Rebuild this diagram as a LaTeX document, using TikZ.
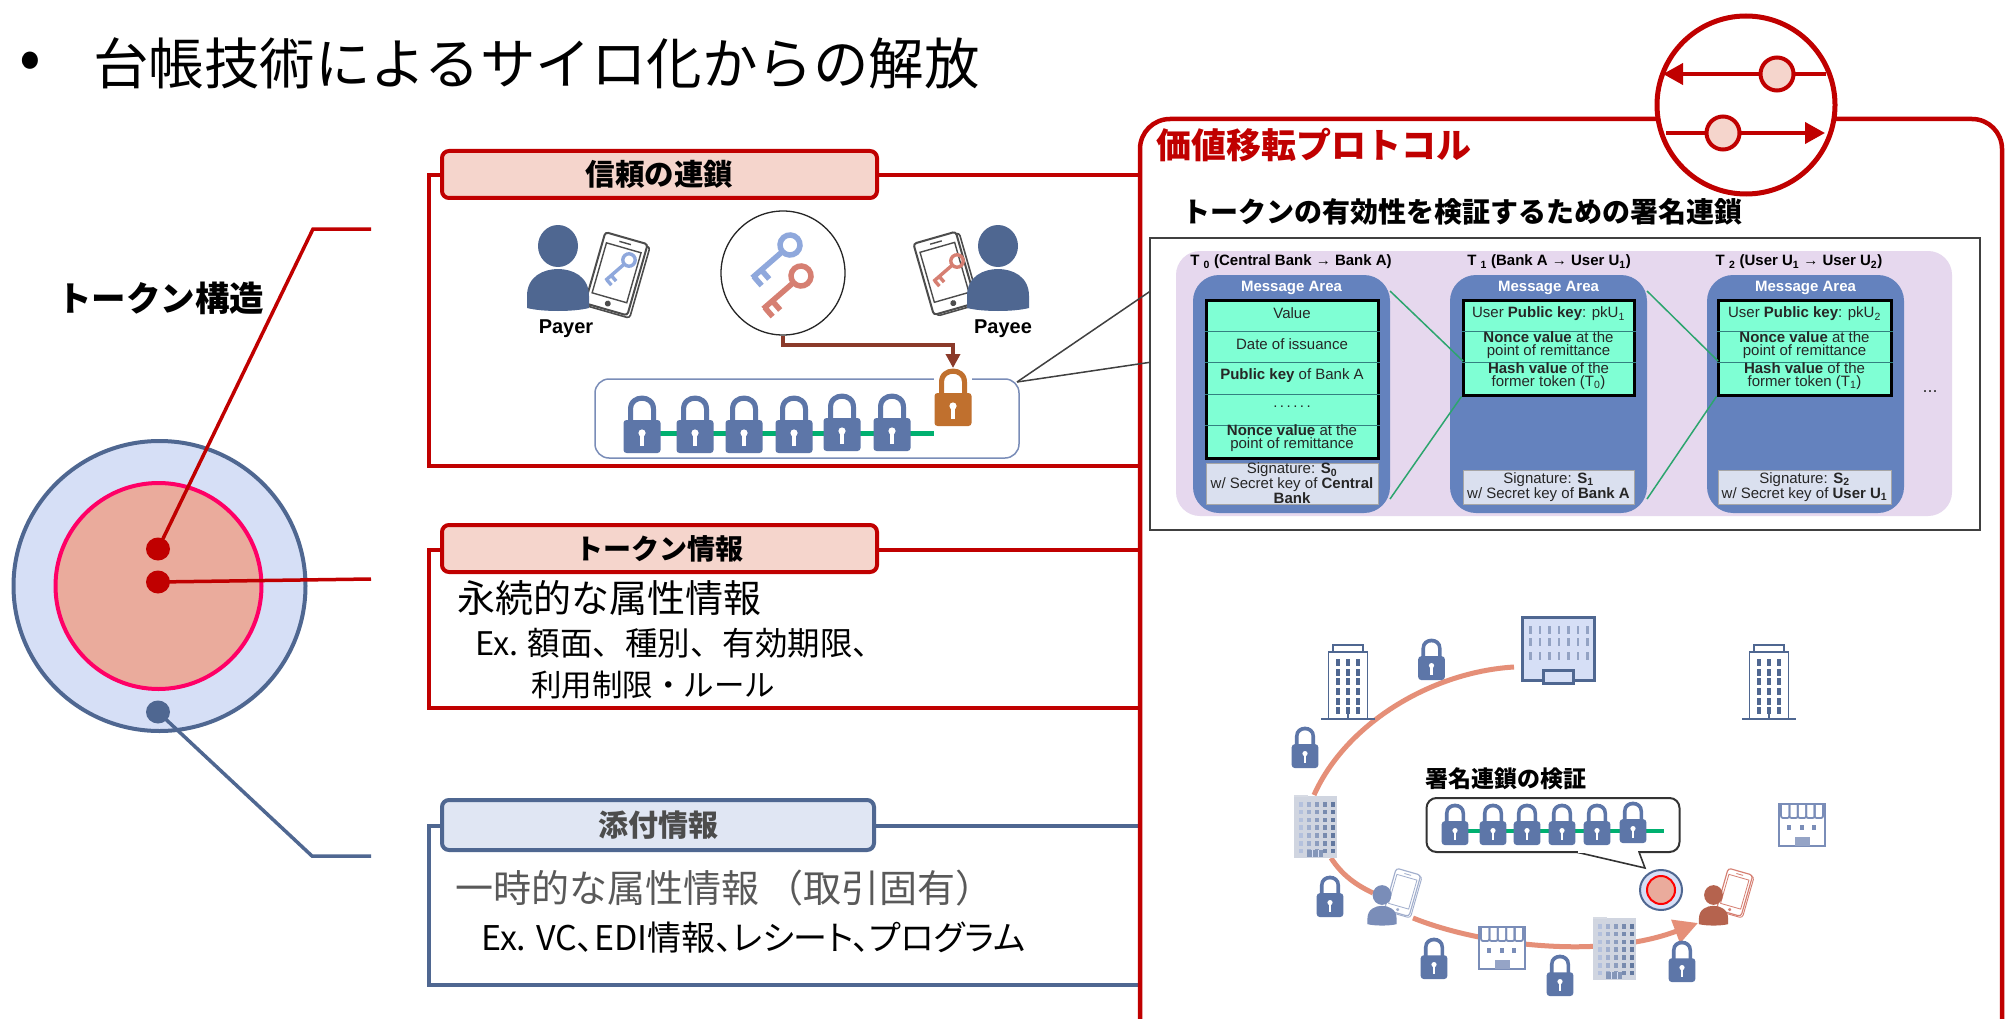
\documentclass[tikz,border=0pt]{standalone}
\usepackage{fontspec}
\usetikzlibrary{arrows.meta,shapes.geometric}
\setmainfont{Liberation Sans}
\newfontfamily\jp{Noto Sans CJK JP}
\newfontfamily\jpp[RawFeature=+palt]{Noto Sans CJK JP}
\definecolor{crim}{HTML}{C00000}
\definecolor{navy}{HTML}{4F6791}
\definecolor{lockblue}{HTML}{5D76A8}
\definecolor{palered}{HTML}{F5D5CC}
\definecolor{paleblue}{HTML}{E0E6F3}
\definecolor{orb}{HTML}{D6DFF6}
\definecolor{salmon}{HTML}{EAAB9C}
\definecolor{hotpink}{HTML}{FF0066}
\definecolor{lilac}{HTML}{E6D8EE}
\definecolor{panelblue}{HTML}{6482BE}
\definecolor{aqua}{HTML}{7FFFD4}
\definecolor{sigfill}{HTML}{DAE0EF}
\definecolor{chain}{HTML}{00B070}
\definecolor{routecol}{HTML}{E58F78}
\definecolor{keyblue}{HTML}{8FA8DC}
\definecolor{keyred}{HTML}{D67F72}
\definecolor{brownline}{HTML}{8B3A2A}
\definecolor{lockorange}{HTML}{C0702E}
\definecolor{brickp}{HTML}{B5634E}
\definecolor{softp}{HTML}{7A8DB8}
\definecolor{linkgreen}{HTML}{2CA56E}
\newcommand\fs[1]{\fontsize{#1}{#1}\selectfont}
% lock: x, bottom y, scale, colour
\newcommand\lockat[4]{\begin{scope}[shift={(#1,#2)},scale=#3]
 \fill[#4,even odd rule] (-14,-30) -- (-14,-44) .. controls (-14,-62) and (14,-62) .. (14,-44) -- (14,-30) -- (9,-30) -- (9,-44) .. controls (9,-55) and (-9,-55) .. (-9,-44) -- (-9,-30) -- cycle;
 \fill[#4,rounded corners=3pt] (-18.5,-33) rectangle (18.5,0);
 \fill[white] (0,-20) circle (3.6);
 \fill[white] (-1.6,-20) rectangle (1.6,-7);
\end{scope}}
% key: head x, head y, rotation, scale, colour
\newcommand\keyat[5]{\begin{scope}[shift={(#1,#2)},rotate=#3,scale=#4]
 \draw[#5,line width=#4*5.5pt] (0,0) circle (10);
 \draw[#5,line width=#4*5.5pt] (10,0) -- (50,0) (38,0) -- (38,-12) (48,0) -- (48,-12);
\end{scope}}
% person: x, y of head, scale, colour
\newcommand\personat[4]{\begin{scope}[shift={(#1,#2)},scale=#3]
 \fill[#4] (0,0) ellipse (20 and 21);
 \fill[#4] (-31,62) -- (-31,50) .. controls (-31,30) and (-14,23) .. (0,23) .. controls (14,23) and (31,30) .. (31,50) -- (31,62) .. controls (15,66) and (-15,66) .. (-31,62) -- cycle;
\end{scope}}
% phone: centre x, y, rotation, scale, colour
\newcommand\phoneat[5]{\begin{scope}[shift={(#1,#2)},rotate=#3,scale=#4]
 \draw[#5,fill=white,line width=#4*1.6pt,rounded corners=3pt] (-20,-36) rectangle (24,38);
 \draw[#5,fill=white,line width=#4*2pt,rounded corners=3pt] (-23,-38) rectangle (21,36);
 \draw[#5,line width=#4*1.4pt] (-19,-28) rectangle (17,24);
 \draw[#5,line width=#4*1.4pt] (-7,-33) -- (5,-33);
 \fill[#5] (-1,30) circle (3);
\end{scope}}
% thin white building: centre x
\newcommand\thinbldg[1]{\begin{scope}[shift={(#1,0)}]
 \draw[navy,fill=white,line width=1.5pt] (-15,652) -- (-15,645) -- (15,645) -- (15,652);
 \draw[navy,fill=white,line width=1.5pt] (-19.5,719) -- (-19.5,652) -- (19.5,652) -- (19.5,719);
 \draw[navy,line width=1.5pt] (-27,719) -- (27,719);
 \draw[navy,line width=1.5pt] (0,708) -- (0,719);
 \foreach \cx in {-10,0,10}{\foreach \ry in {662,672,681,691,701,710}{
   \fill[navy] (\cx-2,\ry-3.5) rectangle (\cx+2,\ry+3.5);}}
\end{scope}}
% tiled building: left x, top y
\newcommand\tiledbldg[2]{\begin{scope}[shift={(#1,#2)}]
 \fill[orb!70!gray!70!white] (0,1) rectangle (43,63);
 \fill[orb!70!gray!60] (0,0) rectangle (14,2);
 \foreach \c in {0,...,4}{\foreach \r in {0,...,6}{
   \pgfmathtruncatemacro\pc{25+15*\c}
   \fill[navy!\pc!orb] (5+8*\c,7+7.8*\r) rectangle (9+8*\c,11.5+7.8*\r);}}
 \fill[navy!60!orb] (13,55) rectangle (29,62);
 \draw[orb,line width=.8pt] (18.5,55) -- (18.5,62) (24,55) -- (24,62);
\end{scope}}
% shop: left x, top y
\newcommand\shopat[2]{\begin{scope}[shift={(#1,#2)}]
 \draw[softp,fill=white,line width=2.4pt] (0,0) rectangle (46,42);
 \foreach \k in {0,...,4}{
   \draw[softp,line width=1.8pt,rounded corners=2pt] (2+8.4*\k,0) -- (2+8.4*\k,14) -- (10.4+8.4*\k,14) -- (10.4+8.4*\k,0);}
 \foreach \k in {10,23,35}{\fill[softp] (\k-2,20.5) rectangle (\k+2,26);}
 \fill[softp!80!white] (15.5,33) rectangle (31,42);
\end{scope}}
\tikzset{
 frameline/.style={line width=4pt,line join=miter},
 redline/.style={frameline,draw=crim},
 blueline/.style={frameline,draw=navy},
 headred/.style={draw=crim,fill=palered,line width=4pt,rounded corners=7pt,inner sep=0pt,font=\jp\bfseries\fs{28}},
 headblue/.style={draw=navy,fill=paleblue,line width=4pt,rounded corners=7pt,inner sep=0pt,text=black!70,font=\jp\bfseries\fs{30}},
 leftlabel/.style={anchor=west,inner sep=0pt},
 dotn/.style={ellipse,inner sep=0pt},
 panel/.style={fill=panelblue,rounded corners=26pt,inner sep=0pt},
 greenbox/.style={draw=black,fill=aqua,line width=3pt,inner sep=0pt},
 sigbox/.style={draw=gray!70,fill=sigfill,line width=1pt,inner sep=0pt,align=center,font=\fontsize{15}{12.5}\selectfont,text=black!85},
 rowtext/.style={inner sep=0pt,align=center,font=\fontsize{15}{12.5}\selectfont,text=black!85},
 msgtext/.style={inner sep=0pt,text=white,font=\bfseries\fs{15}},
 tlabel/.style={inner sep=0pt,font=\bfseries\fs{15}},
 rowline/.style={draw=teal!60!gray,line width=.8pt},
 linkline/.style={draw=linkgreen,line width=1.5pt},
 route/.style={draw=routecol,line width=5pt},
 calloutline/.style={draw=black!75,line width=1.5pt},
 roundel/.style={draw=crim,fill=palered,line width=4pt,circle,inner sep=0pt,minimum size=30pt},
}
\begin{document}
\begin{tikzpicture}[x=1pt,y=-1pt]
\useasboundingbox (0,0) rectangle (2012,1019);
\clip (0,0) rectangle (2012,1019);
\fill[white] (0,0) rectangle (2012,1019);

% title
\node[inner sep=0pt] (bullet) at (30,66) {\jp\fs{64}•};
\node[leftlabel] (title) at (93,63) {\jp\fs{55.5}台帳技術によるサイロ化からの解放};

% token rings
\node[draw=navy,fill=orb,line width=4pt,ellipse,minimum width=292pt,minimum height=290pt,inner sep=0pt] (outerring) at (159.5,586) {};
\node[draw=hotpink,fill=salmon,line width=4pt,ellipse,minimum width=206pt,minimum height=206pt,inner sep=0pt] (innerring) at (158.5,586) {};
\node[leftlabel,font=\jp\bfseries\fs{34.5}] (tokenstruct) at (57,298) {トークン構造};
\node[fill=crim,dotn,minimum width=24pt,minimum height=23pt] (dotA) at (158,549) {};
\node[fill=crim,dotn,minimum width=24pt,minimum height=23pt] (dotB) at (158,582) {};
\node[fill=navy,dotn,minimum width=24pt,minimum height=23pt] (dotC) at (158,712) {};
\coordinate (kneeA) at (313,229);
\coordinate (endA) at (371,229);
\coordinate (endB) at (371,579);
\coordinate (kneeC) at (312,856);
\coordinate (endC) at (371,856);
\draw[crim,line width=3.5pt] (dotA.center) -- (kneeA) -- (endA);
\draw[crim,line width=3.5pt] (dotB.center) -- (endB);
\draw[navy,line width=3.5pt] (dotC.center) -- (kneeC) -- (endC);

% left frames
\coordinate (f1a) at (442,175); \coordinate (f1b) at (429,175); \coordinate (f1c) at (429,466); \coordinate (f1d) at (1140,466); \coordinate (f1e) at (1140,175);
\draw[redline] (f1e) -- (f1a) -- (f1b) -- (f1c) -- (f1d);
\coordinate (f2a) at (442,550); \coordinate (f2b) at (429,550); \coordinate (f2c) at (429,708); \coordinate (f2d) at (1140,708); \coordinate (f2e) at (1140,550);
\draw[redline] (f2e) -- (f2a) -- (f2b) -- (f2c) -- (f2d);
\coordinate (f3a) at (442,826); \coordinate (f3b) at (429,826); \coordinate (f3c) at (429,985); \coordinate (f3d) at (1140,985); \coordinate (f3e) at (1140,826);
\draw[blueline] (f3e) -- (f3a) -- (f3b) -- (f3c) -- (f3d);
\node[headred,font=\jp\bfseries\fs{29.5},minimum width=435pt,minimum height=47pt] (headA) at (659.5,174.5) {信頼の連鎖};
\node[headred,minimum width=435pt,minimum height=47pt] (headB) at (659.5,548.5) {トークン情報};
\node[headblue,minimum width=432pt,minimum height=50pt] (headC) at (658,825) {添付情報};

% trust chain panel
\phoneat{617}{275}{-16}{1}{black!70}
\keyat{629}{260}{221}{.62}{keyblue}
\personat{558}{246}{1}{navy}
\phoneat{946}{274}{16}{1}{black!70}
\keyat{957}{261}{221}{.62}{keyred}
\personat{998}{246}{1}{navy}
\node[inner sep=0pt,font=\bfseries\fs{20}] (payer) at (566,329) {Payer};
\node[inner sep=0pt,font=\bfseries\fs{20}] (payee) at (1003,329) {Payee};
\node[draw=black!85,fill=white,line width=1.3pt,circle,minimum size=124pt,inner sep=0pt] (keycircle) at (783,273) {};
\keyat{790}{245}{221}{1}{keyblue}
\keyat{801}{276}{221}{1}{keyred}
\node[draw=softp,fill=white,line width=1.5pt,rounded corners=14pt,minimum width=424pt,minimum height=79pt,inner sep=0pt] (chainbox) at (807,418.5) {};
\coordinate (chainend) at (934,433);
\coordinate (chainstart) at (642,433);
\draw[chain,line width=5pt] (chainstart) -- (chainend);
\foreach \cx/\cy in {642/453,695/453,744/453,794/453,842/451,892/451}{\lockat{\cx}{\cy}{1}{lockblue}}
\fill[white] (934,372) rectangle (972,386);
\lockat{953}{426}{1}{lockorange}
\coordinate (lockO) at (953,368);
\coordinate (elbowA) at (783,345);
\coordinate (elbowB) at (953,345);
\draw[brownline,line width=4pt,-{Triangle[length=14pt,width=14pt]}] (keycircle.south) -- (elbowA) -- (elbowB) -- (lockO);

% token info text
\node[leftlabel,font=\jp\fs{38}] (permA) at (457,598) {永続的な属性情報};
\node[leftlabel,font=\jp\fs{32.5}] (permB) at (475,643) {Ex. 額面、種別、有効期限、};
\node[leftlabel,font=\jp\fs{30.5}] (permC) at (531,685) {利用制限・ルール};
\node[leftlabel,font=\jp\fs{38},text=black!65] (tempA) at (455,888) {一時的な属性情報\hspace{6pt}（取引固有）};
\node[leftlabel,font=\jpp\fs{34}] (tempB) at (481,938) {Ex. VC、EDI情報、レシート、プログラム};

% protocol frame
\draw[crim,line width=4.5pt,rounded corners=30pt] (1140,1060) -- (1140,119) -- (2002,119) -- (2002,1060);
\node[leftlabel,text=crim,font=\jp\bfseries\fs{35}] (prottitle) at (1156,145) {価値移転プロトコル};
\node[leftlabel,font=\jp\bfseries\fs{28}] (sigtitle) at (1182,212) {トークンの有効性を検証するための署名連鎖};

% protocol roundel
\node[draw=crim,fill=white,line width=5pt,circle,minimum size=178pt,inner sep=0pt] (protring) at (1746,105) {};
\coordinate (upR) at (1826,74); \coordinate (upL) at (1663,74);
\coordinate (loL) at (1666,133); \coordinate (loR) at (1825,133);
\draw[crim,line width=4pt,-{Triangle[length=20pt,width=21pt]}] (upR) -- (upL);
\draw[crim,line width=4pt,-{Triangle[length=20pt,width=21pt]}] (loL) -- (loR);
\node[roundel,minimum size=33pt] (rUp) at (1777,74) {};
\node[roundel,minimum size=33pt] (rLo) at (1723,133) {};

% signature chain box
\coordinate (calloutroot) at (1017,382);
\coordinate (calloutU) at (1152,290);
\coordinate (calloutL) at (1152,362);
\draw[calloutline] (calloutroot) -- (calloutU);
\draw[calloutline] (calloutroot) -- (calloutL);
\node[draw=black!75,fill=white,line width=1.5pt,minimum width=830pt,minimum height=292pt,inner sep=0pt] (sigbox) at (1565,384) {};
\node[fill=lilac,rounded corners=24pt,minimum width=776pt,minimum height=265pt,inner sep=0pt] (lilacbg) at (1564,383.5) {};
\node[panel,minimum width=197pt,minimum height=238pt] (P0) at (1291.5,394) {};
\node[panel,minimum width=197pt,minimum height=238pt] (P1) at (1548.5,394) {};
\node[panel,minimum width=197pt,minimum height=238pt] (P2) at (1805.5,394) {};
\node[tlabel] (T0) at (1291,262) {T \textsubscript{0} (Central Bank → Bank A)};
\node[tlabel] (T1) at (1549,262) {T \textsubscript{1} (Bank A → User U\textsubscript{1})};
\node[tlabel] (T2) at (1799,262) {T \textsubscript{2} (User U\textsubscript{1} → User U\textsubscript{2})};
\node[msgtext] (M0) at (1291.5,288) {Message Area};
\node[msgtext] (M1) at (1548.5,288) {Message Area};
\node[msgtext] (M2) at (1805.5,288) {Message Area};
\node[greenbox,minimum width=172pt,minimum height=158pt] (G0) at (1292,379) {};
\node[greenbox,minimum width=171pt,minimum height=95pt] (G1) at (1548.5,347.5) {};
\node[greenbox,minimum width=173pt,minimum height=95pt] (G2) at (1804.5,347.5) {};
\foreach \ry in {331,362,394,425}{\draw[rowline] (G0.west|-0,\ry) -- (G0.east|-0,\ry);}
\foreach \ry in {331,362}{\draw[rowline] (G1.west|-0,\ry) -- (G1.east|-0,\ry);\draw[rowline] (G2.west|-0,\ry) -- (G2.east|-0,\ry);}
\node[rowtext] (r00) at (1292,313) {Value};
\node[rowtext] (r01) at (1292,344) {Date of issuance};
\node[rowtext] (r02) at (1292,376) {\textbf{Public key} of Bank A};
\node[rowtext] (r03) at (1292,407) {.\,.\,.\,.\,.\,.};
\node[rowtext] (r04) at (1292,438) {\textbf{Nonce value} at the\\point of remittance};
\node[rowtext] (r10) at (1548.5,314) {User \textbf{Public key}: pkU\textsubscript{1}};
\node[rowtext] (r11) at (1548.5,345) {\textbf{Nonce value} at the\\point of remittance};
\node[rowtext] (r12) at (1548.5,376) {\textbf{Hash value} of the\\former token (T\textsubscript{0})};
\node[rowtext] (r20) at (1804.5,314) {User \textbf{Public key}: pkU\textsubscript{2}};
\node[rowtext] (r21) at (1804.5,345) {\textbf{Nonce value} at the\\point of remittance};
\node[rowtext] (r22) at (1804.5,376) {\textbf{Hash value} of the\\former token (T\textsubscript{1})};
\node[sigbox,minimum width=172pt,minimum height=41pt] (S0) at (1292,483.5) {Signature: \textbf{S\textsubscript{0}}\\w/ Secret key of \textbf{Central}\\\textbf{Bank}};
\node[sigbox,minimum width=171pt,minimum height=34pt] (S1) at (1548.5,487) {Signature: \textbf{S\textsubscript{1}}\\w/ Secret key of \textbf{Bank A}};
\node[sigbox,minimum width=173pt,minimum height=34pt] (S2) at (1804.5,487) {Signature: \textbf{S\textsubscript{2}}\\w/ Secret key of \textbf{User U\textsubscript{1}}};
\coordinate (u0) at (1390,291); \coordinate (l0) at (1390,499);
\coordinate (u1) at (1647,291); \coordinate (l1) at (1647,499);
\coordinate (h1) at (1463,361); \coordinate (h2) at (1718,361);
\draw[linkline] (u0) -- (h1);
\draw[linkline] (l0) -- (G1.south west);
\draw[linkline] (u1) -- (h2);
\draw[linkline] (l1) -- (G2.south west);
\node[inner sep=0pt,text=black!80,font=\fs{18}] (ellips) at (1930,392) {...};

% route
\coordinate (rA) at (1514,667); \coordinate (rB) at (1314,795);
\coordinate (rC) at (1331,858); \coordinate (rD) at (1373,893);
\coordinate (rE) at (1413,918); \coordinate (rF) at (1698,923);
\draw[route] (rA) .. controls (1430,672) and (1345,725) .. (rB);
\draw[route] (rC) .. controls (1342,875) and (1356,885) .. (rD);
\draw[route,-{Triangle[length=24pt,width=24pt]}] (rE) .. controls (1480,945) and (1600,960) .. (rF);

% big bank
\begin{scope}[shift={(1522,617)}]
 \draw[navy,fill=orb,line width=3pt] (0,0) rectangle (72,63);
 \foreach \c in {0,...,6}{\foreach \ry in {13,25,39}{\fill[navy!50!orb] (7+9.5*\c,\ry-4) rectangle (9.5+9.5*\c,\ry+4);}}
 \draw[navy,fill=orb,line width=3pt] (21,53) rectangle (51,66);
\end{scope}
\thinbldg{1348}
\thinbldg{1769}
\tiledbldg{1294}{795}
\tiledbldg{1593}{917}
\shopat{1479}{927}
\shopat{1779}{804}
\lockat{1431.5}{680}{.72}{lockblue}
\lockat{1305}{768}{.72}{lockblue}
\lockat{1330}{917}{.72}{lockblue}
\lockat{1434}{979}{.72}{lockblue}
\lockat{1560}{996}{.72}{lockblue}
\lockat{1682}{982}{.72}{lockblue}

% users
\phoneat{1403}{893}{-16}{.58}{softp!70!white}
\personat{1382}{895}{.47}{softp}
\phoneat{1735}{893}{-16}{.58}{keyred}
\personat{1713.5}{895}{.47}{brickp}

% verification callout
\node[leftlabel,font=\jp\bfseries\fs{23}] (verifylabel) at (1425,779) {署名連鎖の検証};
\node[draw=black!80,fill=white,line width=2pt,rounded corners=10pt,minimum width=253pt,minimum height=54pt,inner sep=0pt] (verifybox) at (1553,825) {};
\coordinate (tailA) at (1576,852); \coordinate (tailB) at (1645,868); \coordinate (tailC) at (1639,852);
\fill[white] (tailA) -- (tailB) -- (tailC) -- cycle;
\draw[black!80,line width=1.6pt] (tailA) -- (tailB) -- (tailC);
\fill[white] (1578,850.6) rectangle (1638,853.4);
\coordinate (vchainA) at (1455,831); \coordinate (vchainB) at (1664,831);
\draw[chain,line width=4pt] (vchainA) -- (vchainB);
\foreach \cx/\cy in {1455/845,1493/845,1527/845,1562/845,1597/845,1633/843}{\lockat{\cx}{\cy}{.72}{lockblue}}
\node[draw=navy,fill=orb,line width=2pt,ellipse,minimum width=42pt,minimum height=40pt,inner sep=0pt] (target) at (1661,890) {};
\node[draw=red,fill=salmon,line width=2pt,ellipse,minimum width=28pt,minimum height=28pt,inner sep=0pt] (targetcore) at (1661,890) {};
\end{tikzpicture}
\end{document}
